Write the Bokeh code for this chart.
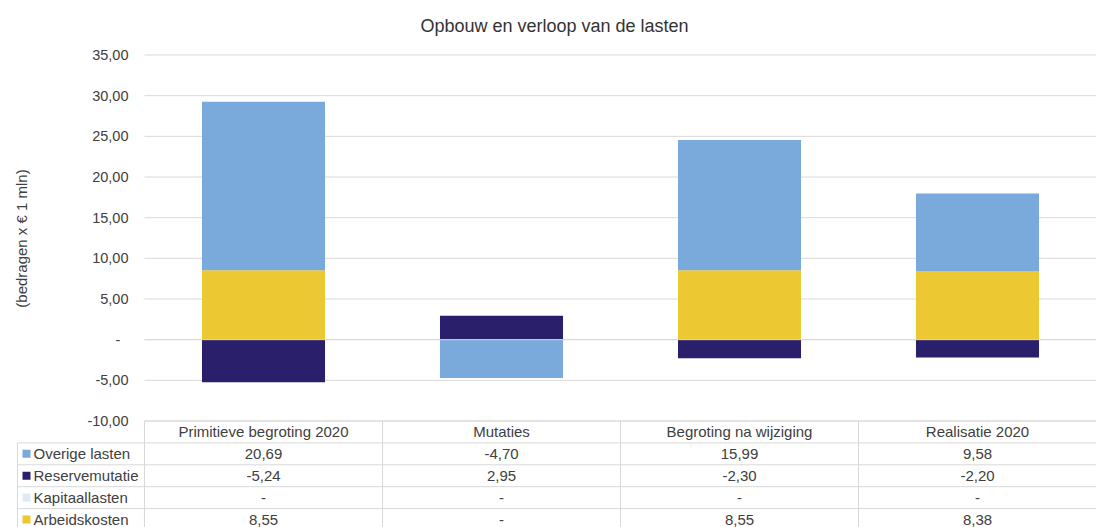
import numpy as np
from bokeh.plotting import figure
from bokeh.models import (ColumnDataSource, LinearAxis, FixedTicker,
                          CustomJSTickFormatter, Range1d, Label)
from bokeh.embed import file_html
from bokeh.resources import INLINE
from bokeh.core.properties import value

# ---------------- data ----------------
categories = ["Primitieve begroting 2020", "Mutaties",
              "Begroting na wijziging", "Realisatie 2020"]
overige_lasten = [20.69, -4.70, 15.99, 9.58]
reservemutatie = [-5.24, 2.95, -2.30, -2.20]
kapitaallasten = [0.0, 0.0, 0.0, 0.0]
arbeidskosten = [8.55, 0.0, 8.55, 8.38]
y_ticks = [-10, -5, 0, 5, 10, 15, 20, 25, 30, 35]

title_text = "Opbouw en verloop van de lasten"
y_label = "(bedragen x € 1 mln)"

# table order (top to bottom) and stacking order (bottom to top)
table_series = [("Overige lasten", overige_lasten, "#7AAADC"),
                ("Reservemutatie", reservemutatie, "#291F6B"),
                ("Kapitaallasten", kapitaallasten, "#DDEBF7"),
                ("Arbeidskosten", arbeidskosten, "#ECC933")]
stack_order = ["Arbeidskosten", "Kapitaallasten", "Reservemutatie", "Overige lasten"]

# ---------------- layout constants ----------------
W, H = 1096, 527
CAT_PX = 238.0          # width of one category column
PLOT_LEFT_PX = 144.0    # left edge of first category column
LEG_LEFT_PX = 17.0      # left edge of the legend column of the table
PX_UNIT = 366.0 / 45.0  # pixels per value unit
TOP_PX = 54.5           # pixel position of the 35 gridline
Y_TOP = 35 + TOP_PX / PX_UNIT
Y_BOT = -10 - (H - (TOP_PX + 45 * PX_UNIT)) / PX_UNIT
ROW = 21.9 / PX_UNIT
X0 = -PLOT_LEFT_PX / CAT_PX
LEG = X0 + LEG_LEFT_PX / CAT_PX
N = len(categories)

FONT = "Liberation Sans"
TXT = "#404040"
GRID = "#D9D9D9"

p = figure(width=W, height=H, x_range=Range1d(X0, N), y_range=Range1d(Y_BOT, Y_TOP),
           x_axis_type=None, y_axis_type=None, output_backend="svg",
           toolbar_location=None, min_border_left=0, min_border_right=0,
           min_border_top=0, min_border_bottom=0, outline_line_color=None,
           background_fill_color="white", border_fill_color="white")

xc = np.arange(N) + 0.5

# gridlines (behind bars)
p.segment(x0=[0] * len(y_ticks), x1=[N] * len(y_ticks), y0=y_ticks, y1=y_ticks,
          line_color=GRID, line_width=1)

# stacked bars, positive and negative stacked separately
lookup = {name: (vals, col) for name, vals, col in table_series}
pos = np.zeros(N)
neg = np.zeros(N)
for name in stack_order:
    vals, col = lookup[name]
    v = np.array(vals, dtype=float)
    bottom = np.where(v >= 0, pos, neg)
    top = bottom + v
    pos = np.where(v >= 0, top, pos)
    neg = np.where(v < 0, top, neg)
    src = ColumnDataSource(dict(x=xc, bottom=bottom, top=top))
    p.vbar(x="x", width=0.517, bottom="bottom", top="top", source=src,
           fill_color=col, line_color=None)

# zero axis line on top of bars
p.segment(x0=[0], x1=[N], y0=[0], y1=[0], line_color=GRID, line_width=1)

# y axis at x = 0
fmt = CustomJSTickFormatter(code="""
if (Math.abs(tick) < 1e-9) { return '-\\u00a0\\u00a0'; }
return tick.toFixed(2).replace('.', ',');
""")
yaxis = LinearAxis(fixed_location=0, ticker=FixedTicker(ticks=y_ticks), formatter=fmt,
                   bounds=(min(y_ticks), max(y_ticks)),
                   axis_label=y_label, axis_line_color=None,
                   major_tick_line_color=None, minor_tick_line_color=None,
                   major_tick_in=0, major_tick_out=0, minor_tick_in=0, minor_tick_out=0,
                   major_label_standoff=16, axis_label_standoff=54,
                   major_label_text_font=FONT, major_label_text_font_size="14.5px",
                   major_label_text_color=TXT,
                   axis_label_text_font=FONT, axis_label_text_font_size="15px",
                   axis_label_text_font_style="normal", axis_label_text_color=TXT)
p.add_layout(yaxis, "left")

# ---------------- data table ----------------
def row_center(k):
    return -10 - ROW * (k + 0.5)

def row_top(k):
    return -10 - ROW * k

# horizontal table lines
hx0 = [0.0] + [LEG] * 4
hx1 = [float(N)] * 5
hy = [row_top(k) for k in range(5)]
p.segment(x0=hx0, x1=hx1, y0=hy, y1=hy, line_color=GRID, line_width=1)
# vertical table lines
vx = [LEG] + list(range(N))
vy0 = [row_top(1)] + [row_top(0)] * N
vy1 = [Y_BOT] * (N + 1)
p.segment(x0=vx, x1=vx, y0=vy0, y1=vy1, line_color=GRID, line_width=1)

# header
p.text(x=xc, y=[row_center(0)] * N, text=categories, text_align="center",
       text_baseline="middle", text_font=value(FONT), text_font_size="15px",
       text_color=TXT)


def fmt_val(v):
    if abs(v) < 1e-9:
        return "-"
    return f"{v:.2f}".replace(".", ",")


for k, (name, vals, col) in enumerate(table_series, start=1):
    yk = row_center(k)
    p.text(x=xc, y=[yk] * N, text=[fmt_val(v) for v in vals], text_align="center",
           text_baseline="middle", text_font=value(FONT), text_font_size="15px",
           text_color=TXT)
    p.scatter(x=[X0 + 26 / CAT_PX], y=[yk], marker="square", size=8,
              fill_color=col, line_color=None)
    p.text(x=[X0 + 33 / CAT_PX], y=[yk], text=[name], text_align="left",
           text_baseline="middle", text_font=value(FONT), text_font_size="15px",
           text_color=TXT)

# title
p.add_layout(Label(x=X0 + 554 / CAT_PX, y=Y_TOP - 25 / PX_UNIT, text=title_text,
                   text_align="center", text_baseline="middle", text_font=FONT,
                   text_font_size="18px", text_color="#333333"))

open("out.html", "w").write(file_html(p, INLINE))
